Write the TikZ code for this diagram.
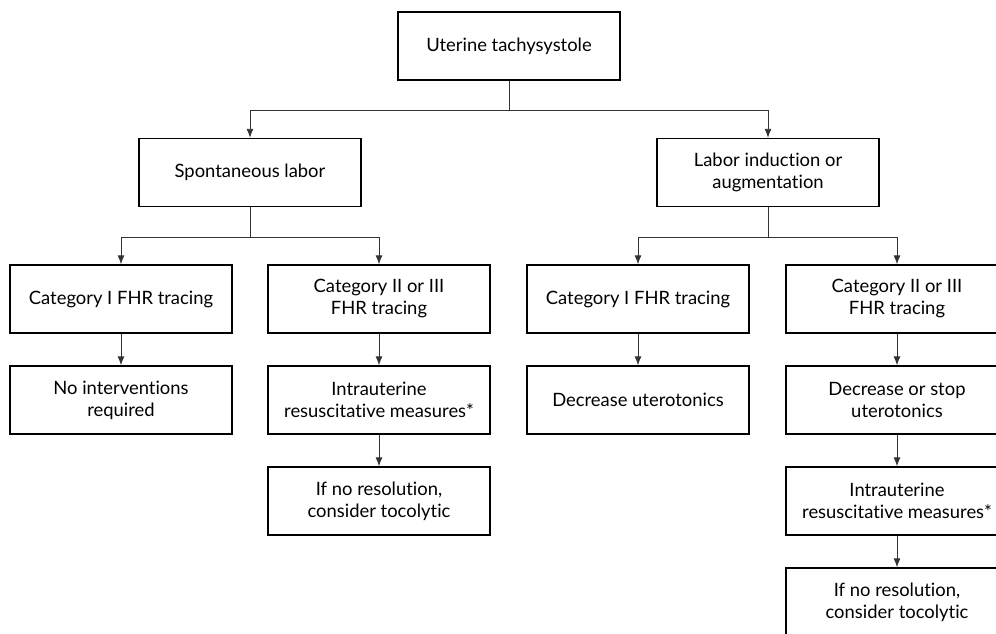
\documentclass[tikz,border=0pt]{standalone}
\usepackage{fontspec}
\setmainfont{Lato}[Ligatures={NoCommon}]
\usetikzlibrary{arrows.meta,calc}

\begin{document}
\begin{tikzpicture}[x=1pt, y=-1pt, >={Latex[length=9pt,width=7pt]},
    box/.style={draw, line width=1.4pt, minimum width=222pt, minimum height=68pt,
        align=center, inner sep=2pt, font=\fontsize{18.4}{22}\selectfont},
    link/.style={draw=black!80, line width=0.9pt}]

% Page (the right column runs past the edge)
\clip (0,0) rectangle (996,634);

% Parameters (column centres)
\def\cA{121}
\def\cB{379}
\def\cC{638}
\def\cD{897}

% Top box
\node[box] (top) at (509,46) {Uterine tachysystole};

% Second row
\node[box] (spont)  at (250,172.5) {Spontaneous labor};
\node[box] (induct) at (768,172.5) {Labor induction or\\augmentation};

% Third row
\node[box] (catIa)  at (\cA,299) {Category I FHR tracing};
\node[box] (catIIa) at (\cB,299) {Category II or III\\FHR tracing};
\node[box] (catIb)  at (\cC,299) {Category I FHR tracing};
\node[box] (catIIb) at (\cD,299) {Category II or III\\FHR tracing};

% Left branch
\node[box] (nointv)  at (\cA,400) {No interventions\\required};
\node[box] (resusa)  at (\cB,400) {Intrauterine\\resuscitative measures*};
\node[box] (tocoa)   at (\cB,501) {If no resolution,\\consider tocolytic};

% Right branch
\node[box] (decr)    at (\cC,400) {Decrease uterotonics};
\node[box] (decrst)  at (\cD,400) {Decrease or stop\\uterotonics};
\node[box] (resusb)  at (\cD,501) {Intrauterine\\resuscitative measures*};
\node[box] (tocob)   at (\cD,602) {If no resolution,\\consider tocolytic};

% Bus points
\coordinate (bus0) at (509,110);
\coordinate (bus1) at (250,237);
\coordinate (bus2) at (768,237);

% Connectors
\draw[link] (top.south) -- (bus0);
\draw[link,->] (bus0) -| (spont.north);
\draw[link,->] (bus0) -| (induct.north);

\draw[link] (spont.south) -- (bus1);
\draw[link,->] (bus1) -| (catIa.north);
\draw[link,->] (bus1) -| (catIIa.north);

\draw[link] (induct.south) -- (bus2);
\draw[link,->] (bus2) -| (catIb.north);
\draw[link,->] (bus2) -| (catIIb.north);

\draw[link,->] (catIa) -- (nointv);
\draw[link,->] (catIIa) -- (resusa);
\draw[link,->] (resusa) -- (tocoa);
\draw[link,->] (catIb) -- (decr);
\draw[link,->] (catIIb) -- (decrst);
\draw[link,->] (decrst) -- (resusb);
\draw[link,->] (resusb) -- (tocob);

\end{tikzpicture}
\end{document}
